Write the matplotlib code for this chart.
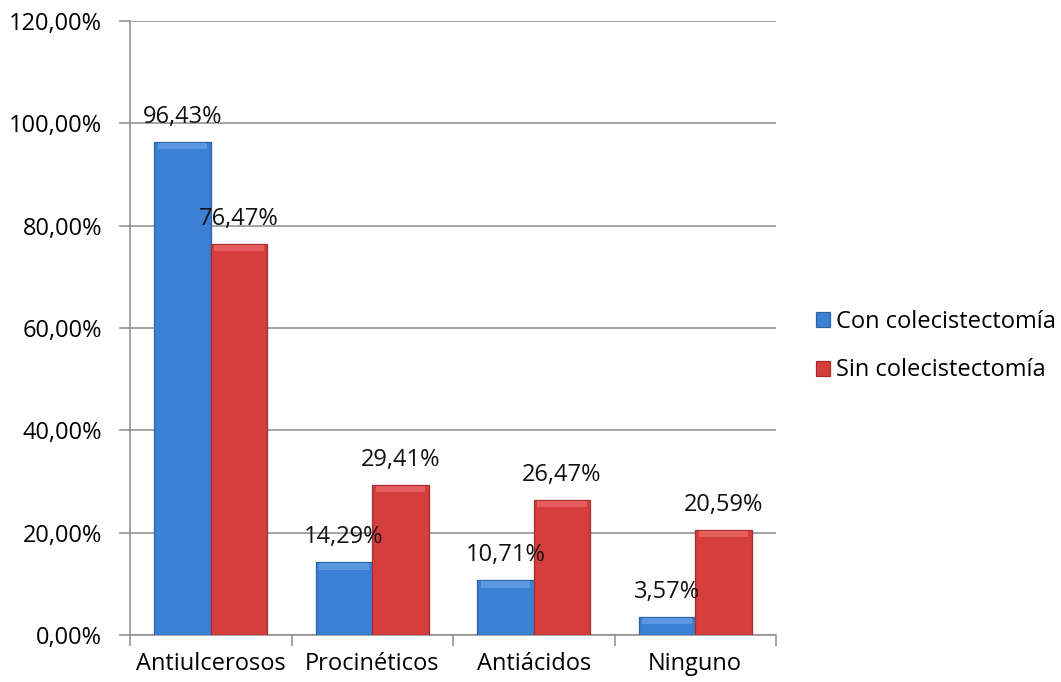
import matplotlib.pyplot as plt
import numpy as np

plt.rcParams['font.family'] = ['Open Sans', 'DejaVu Sans']

categorias = ['Antiulcerosos', 'Procinéticos', 'Antiácidos', 'Ninguno']
con_cole = [96.43, 14.29, 10.71, 3.57]
sin_cole = [76.47, 29.41, 26.47, 20.59]
series = ['Con colecistectomía', 'Sin colecistectomía']
yticks = [0, 20, 40, 60, 80, 100, 120]

azul, azul_osc, azul_claro = '#3d7fd2', '#2c62a8', '#5b98e2'
rojo, rojo_osc, rojo_claro = '#d63e3e', '#a32d2d', '#e65d5d'
gris = '#8c8c8c'


def pct(v, dec=2):  # comma as decimal separator
    return (('%.' + str(dec) + 'f%%') % v).replace('.', ',')


fig = plt.figure(figsize=(10.61, 6.82), dpi=100)
ax = fig.add_axes([130 / 1061, 47 / 682, 646 / 1061, 614 / 682])

x = np.arange(len(categorias))
w = 0.35
for vals, off, c, co, cl, name in [(con_cole, -w / 2, azul, azul_osc, azul_claro, series[0]),
                                   (sin_cole, w / 2, rojo, rojo_osc, rojo_claro, series[1])]:
    ax.bar(x + off, vals, w, color=c, edgecolor=co, linewidth=0.9, label=name, zorder=3)
    # soft bevel strip along the top of each bar
    bevel = [min(1.3, v * 0.35) for v in vals]
    ax.bar(x + off, bevel, w * 0.88, bottom=[v - b - 0.2 for v, b in zip(vals, bevel)],
           color=cl, linewidth=0, zorder=4)
    for xi, v in zip(x + off, vals):
        ax.annotate(pct(v), (xi, v), xytext=(0, 13.5),
                    textcoords='offset points', ha='center', va='baseline',
                    fontsize=17, color='#111111', zorder=5)

ax.set_xlim(-0.5, 3.5)
ax.set_ylim(0, 120)
ax.set_yticks(yticks)
ax.set_yticklabels([pct(t) for t in yticks])
ax.yaxis.grid(True, color=gris, linewidth=1.1, zorder=0)
ax.set_axisbelow(True)

ax.set_xticks(np.arange(-0.5, 4, 1))
ax.set_xticklabels([])
ax.set_xticks(x, minor=True)
ax.set_xticklabels(categorias, minor=True)
ax.tick_params(axis='x', which='major', length=8, width=1.1, color=gris, direction='out')
ax.tick_params(axis='x', which='minor', length=0, pad=12, labelsize=17)
ax.tick_params(axis='y', length=8, width=1.1, color=gris, pad=12, labelsize=17)

for s in ['top', 'right']:
    ax.spines[s].set_visible(False)
for s in ['left', 'bottom']:
    ax.spines[s].set_color(gris)
    ax.spines[s].set_linewidth(1.1)

leg = fig.legend(loc='center left', bbox_to_anchor=(816 / 1061, 336 / 682), frameon=False,
                 fontsize=17, handlelength=0.6, handleheight=0.6, handletextpad=0.25,
                 labelspacing=1.05, borderaxespad=0, borderpad=0)

fig.savefig('out.png', dpi=100)
